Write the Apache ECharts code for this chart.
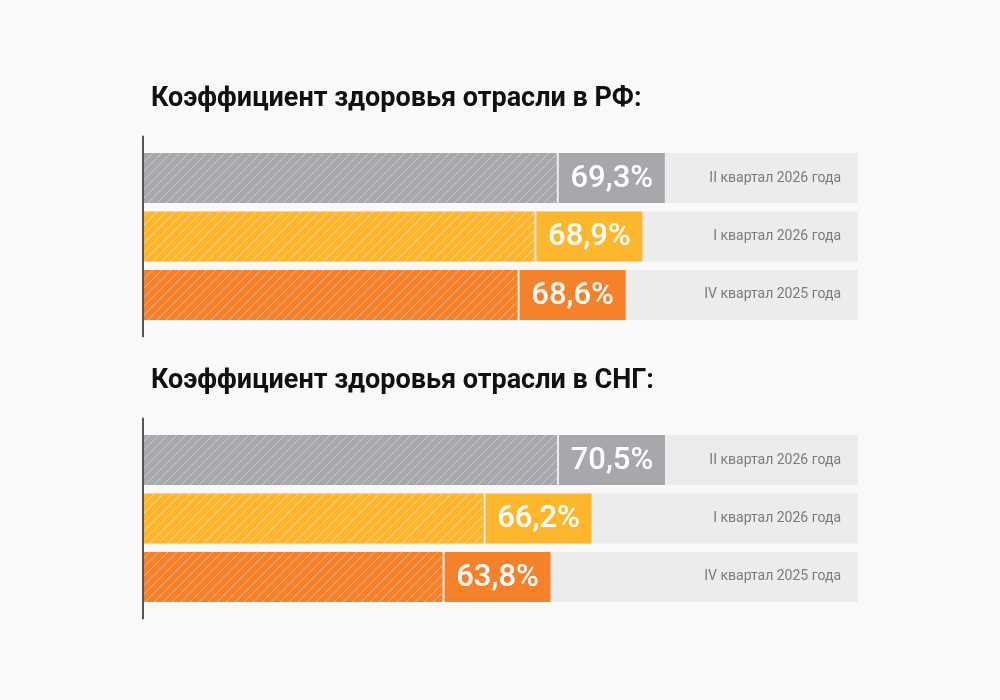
<!DOCTYPE html>
<html lang="ru">
  <head>
    <meta charset="UTF-8" />
    <title>Коэффициент здоровья отрасли</title>
    <script src="https://cdn.jsdelivr.net/npm/echarts@6/dist/echarts.min.js"></script>
    <style>
      html, body { margin: 0; padding: 0; background: #f9f9f9; }
    </style>
  </head>
  <body>
    <div id="chart" style="width: 1000px; height: 700px"></div>

    <script>
      // данные
      var titles = ['Коэффициент здоровья отрасли в РФ:', 'Коэффициент здоровья отрасли в СНГ:']
      var categories = ['II квартал 2026 года', 'I квартал 2026 года', 'IV квартал 2025 года']
      var valuesRF = [69.3, 68.9, 68.6]
      var valuesCIS = [70.5, 66.2, 63.8]
      var barColors = ['#a7a8ab', '#fcb72d', '#f5812b']

      // штриховка для баров
      function hatch(color) {
        var s = 9
        var c = document.createElement('canvas')
        c.width = s
        c.height = s
        var ctx = c.getContext('2d')
        ctx.fillStyle = color
        ctx.fillRect(0, 0, s, s)
        ctx.strokeStyle = 'rgba(255,255,255,0.4)'
        ctx.lineWidth = 1
        for (var k = -1; k <= 1; k++) {
          ctx.beginPath()
          ctx.moveTo(k * s, s)
          ctx.lineTo(k * s + s, 0)
          ctx.stroke()
        }
        return c
      }
      var patterns = barColors.map(hatch)

      // шкалы подобраны так, чтобы длины баров совпадали с макетом
      var axisRange = [
        { min: 60, max: 72.75 },
        { min: 40, max: 81.8 },
      ]

      function makeRender(r) {
        return function (params, api) {
          var v = api.value(0)
          var i = api.value(1)
          var unit = api.size([0, 1])[1]
          var h = unit * 0.855
          var start = api.coord([r.min, i])
          var end = api.coord([v, i])
          var trackEnd = api.coord([r.max, i])
          var y = start[1] - h / 2
          var solidW = 106
          return {
            type: 'group',
            children: [
              { type: 'rect', shape: { x: start[0], y: y, width: trackEnd[0] - start[0], height: h }, style: { fill: '#ececec' } },
              { type: 'rect', shape: { x: start[0], y: y, width: end[0] - solidW - 2 - start[0], height: h }, style: { fill: { image: patterns[i], repeat: 'repeat' } } },
              { type: 'rect', shape: { x: end[0] - solidW, y: y, width: solidW, height: h }, style: { fill: barColors[i] } },
              {
                type: 'text',
                x: end[0] - solidW / 2,
                y: start[1] + 1,
                style: {
                  text: v.toFixed(1).replace('.', ',') + '%',
                  fill: '#fff',
                  font: '500 31px Roboto',
                  align: 'center',
                  verticalAlign: 'middle',
                },
              },
              {
                type: 'text',
                x: trackEnd[0] - 17,
                y: start[1],
                style: {
                  text: categories[i],
                  fill: '#7b7b7b',
                  font: '14px Roboto',
                  align: 'right',
                  verticalAlign: 'middle',
                },
              },
            ],
          }
        }
      }

      var chart = echarts.init(document.getElementById('chart'))

      var grids = [
        { left: 144, width: 714, top: 136.5, height: 200 },
        { left: 144, width: 714, top: 418.5, height: 200 },
      ]

      var option = {
        backgroundColor: '#f9f9f9',
        animation: false,
        title: titles.map(function (t, k) {
          return {
            text: t,
            left: 146,
            top: 81 + k * 282,
            textStyle: { fontFamily: 'Roboto', fontWeight: 'bold', fontSize: 27, color: '#111' },
          }
        }),
        grid: grids,
        xAxis: axisRange.map(function (r, k) {
          return { type: 'value', gridIndex: k, min: r.min, max: r.max, show: false }
        }),
        yAxis: grids.map(function (g, k) {
          return {
            type: 'value',
            gridIndex: k,
            inverse: true,
            min: -0.71,
            max: 2.71,
            offset: 1,
            axisLine: { show: true, onZero: false, lineStyle: { color: '#555', width: 2 } },
            axisTick: { show: false },
            axisLabel: { show: false },
            splitLine: { show: false },
          }
        }),
        series: [valuesRF, valuesCIS].map(function (vals, k) {
          return {
            type: 'custom',
            xAxisIndex: k,
            yAxisIndex: k,
            renderItem: makeRender(axisRange[k]),
            data: vals.map(function (v, i) { return [v, i] }),
            z: 1,
          }
        }),
      }

      chart.setOption(option)
    </script>
  </body>
</html>
